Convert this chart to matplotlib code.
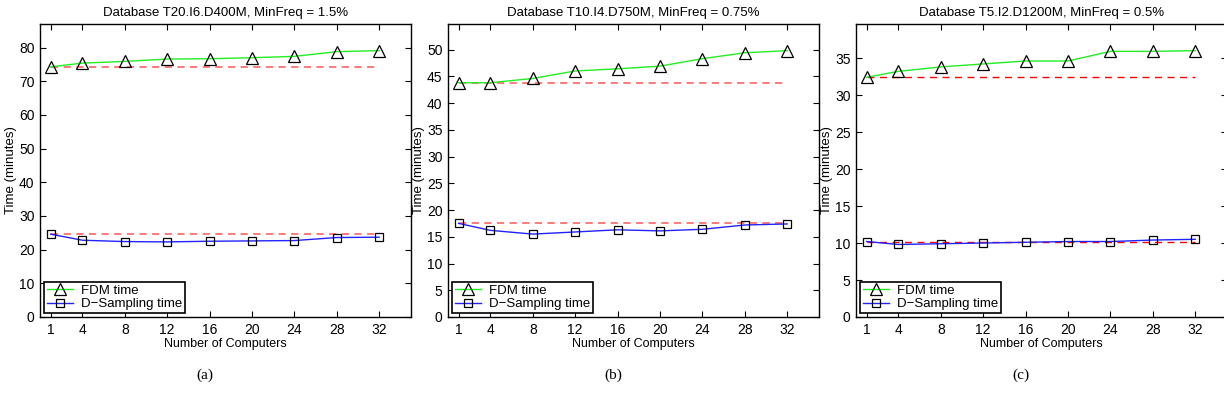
import matplotlib
matplotlib.use("Agg")
from matplotlib import pyplot as plt

computers = [1, 4, 8, 12, 16, 20, 24, 28, 32]

titles = [
    "Database T20.I6.D400M, MinFreq = 1.5%",
    "Database T10.I4.D750M, MinFreq = 0.75%",
    "Database T5.I2.D1200M, MinFreq = 0.5%",
]
captions = ["(a)", "(b)", "(c)"]

fdm_a = [74.3, 75.4, 75.9, 76.6, 76.7, 77.0, 77.4, 78.8, 79.1]
dsamp_a = [24.6, 22.8, 22.4, 22.3, 22.5, 22.6, 22.7, 23.6, 23.7]

fdm_b = [43.8, 43.8, 44.6, 46.0, 46.4, 46.9, 48.3, 49.4, 49.8]
dsamp_b = [17.5, 16.2, 15.5, 15.9, 16.3, 16.1, 16.4, 17.2, 17.4]

fdm_c = [32.4, 33.2, 33.8, 34.2, 34.6, 34.6, 35.9, 35.9, 36.0]
dsamp_c = [10.2, 9.8, 9.9, 10.0, 10.1, 10.2, 10.2, 10.4, 10.5]

yticks_a = [0, 10, 20, 30, 40, 50, 60, 70, 80]
yticks_b = [0, 5, 10, 15, 20, 25, 30, 35, 40, 45, 50]
yticks_c = [0, 5, 10, 15, 20, 25, 30, 35]

plt.rcParams['font.family'] = ['Liberation Sans', 'DejaVu Sans']
plt.rcParams['font.size'] = 10

fig = plt.figure(figsize=(12.24, 4.17), dpi=100)

lefts = [40, 448, 856]
panels = [
    (fdm_a, dsamp_a, yticks_a, '#ff7070', 1.3, (0, (4, 3))),
    (fdm_b, dsamp_b, yticks_b, '#ff7070', 1.3, (0, (4, 3))),
    (fdm_c, dsamp_c, yticks_c, '#ff0000', 1.0, (0, (5, 4))),
]

for i, (fdm, dsamp, yticks, dash_col, dash_lw, dash_ls) in enumerate(panels):
    ax = fig.add_axes([lefts[i] / 1224, 100 / 417, 371 / 1224, 293 / 417])

    # baselines: time with a single computer
    ax.plot([computers[0], computers[-1]], [fdm[0], fdm[0]], color=dash_col,
            lw=dash_lw, ls=dash_ls, zorder=2)
    ax.plot([computers[0], computers[-1]], [dsamp[0], dsamp[0]], color=dash_col,
            lw=dash_lw, ls=dash_ls, zorder=2)

    ax.plot(computers, fdm, color='#22ee22', lw=1.0, marker='^', ms=8,
            mfc='none', mec='black', mew=0.9, label='FDM time', zorder=3)
    ax.plot(computers, dsamp, color='#2222ff', lw=1.0, marker='s', ms=6,
            mfc='none', mec='black', mew=0.9, label='D\u2212Sampling time', zorder=3)

    ax.set_xlim(0, 35)
    ax.set_ylim(0, max(fdm) * 1.1)
    ax.set_xticks(computers)
    ax.set_yticks(yticks)
    ax.tick_params(direction='in', top=True, right=True, length=4, width=0.8,
                   labelsize=10, pad=4)
    for sp in ax.spines.values():
        sp.set_linewidth(1.0)

    ax.set_title(titles[i], fontsize=9.5, pad=6)
    ax.set_ylabel("Time (minutes)", fontsize=9.5, labelpad=1)
    ax.set_xlabel("Number of Computers", fontsize=9, labelpad=1,
                  family=['Liberation Sans Narrow', 'Liberation Sans'])

    leg = ax.legend(loc='lower left', borderaxespad=0.3, fancybox=False,
                    framealpha=1, edgecolor='black', handlelength=2.0,
                    handletextpad=0.6, labelspacing=0.1, borderpad=0.2,
                    fontsize=9.5)
    leg.get_frame().set_linewidth(1.2)

    fig.text((lefts[i] + 165) / 1224, 1 - 375 / 417, captions[i],
             family=['Liberation Serif', 'DejaVu Serif'], fontsize=11,
             ha='center', va='center')

fig.savefig("out.png", dpi=100)
